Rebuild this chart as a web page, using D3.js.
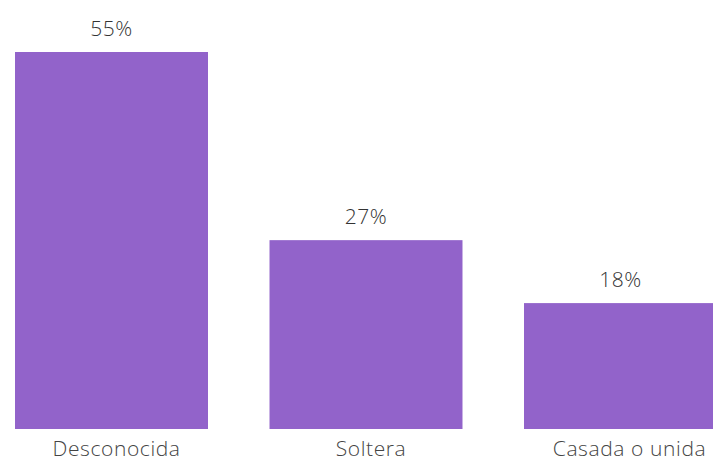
<!DOCTYPE html>
<html><head><meta charset="utf-8">
<script src="https://cdn.jsdelivr.net/npm/d3@7"></script>
<style>body{margin:0;background:#fff;}svg{display:block;}</style>
</head><body>
<svg id="c" width="713" height="461"></svg>
<script>
const categories = ["Desconocida", "Soltera", "Casada o unida"];
const values = [54.5, 27.3, 18.2];
const valueLabels = ["55%", "27%", "18%"];

const svg = d3.select("#c");
const baseY = 429;
const x = d3.scaleBand().domain(categories).range([-46.5, 778.5]).paddingInner(0.2417).paddingOuter(0.2417);
const y = d3.scaleLinear().domain([0, 54.5]).range([baseY, 52]);

svg.selectAll("rect.bar").data(values).join("rect")
  .attr("class", "bar")
  .attr("x", (d, i) => x(categories[i]))
  .attr("width", x.bandwidth())
  .attr("y", d => y(d))
  .attr("height", d => y(0) - y(d))
  .attr("fill", "#9263CA");

svg.selectAll("text.val").data(values).join("text")
  .attr("class", "val")
  .attr("x", (d, i) => x(categories[i]) + x.bandwidth() / 2)
  .attr("y", d => y(d) - 16)
  .attr("text-anchor", "middle")
  .attr("font-family", "Open Sans, sans-serif")
  .attr("font-size", 21)
  .attr("font-weight", 300)
  .attr("letter-spacing", 0.5)
  .attr("fill", "#333")
  .text((d, i) => valueLabels[i]);

const xAxis = d3.axisBottom(x).tickSize(0).tickPadding(0);
const gx = svg.append("g").attr("transform", `translate(0,${baseY})`).call(xAxis);
gx.select(".domain").remove();
gx.selectAll("text")
  .attr("dy", 0).attr("y", 27).attr("dx", (d, i) => i === 2 ? 9 : 5)
  .attr("font-family", "Open Sans, sans-serif")
  .attr("font-size", 21)
  .attr("font-weight", 300)
  .attr("letter-spacing", 0.6)
  .attr("fill", "#444");
</script>
</body></html>
